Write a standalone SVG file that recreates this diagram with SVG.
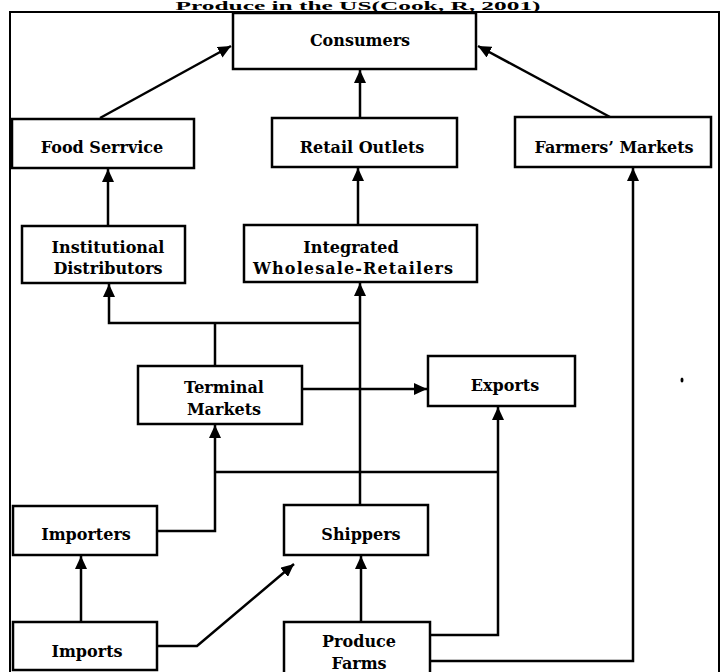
<svg xmlns="http://www.w3.org/2000/svg" width="725" height="672" viewBox="0 0 725 672">
<style>
.box{fill:#fff;stroke:#000;stroke-width:2.5}
.lbl{font-family:"DejaVu Serif","Liberation Serif",serif;font-weight:bold;font-size:16px;text-anchor:middle;fill:#000}
.c{fill:none;stroke:#000;stroke-width:2.5}
.a{marker-end:url(#ah)}
</style>
<defs>
<marker id="ah" markerUnits="userSpaceOnUse" markerWidth="14" markerHeight="12" refX="13" refY="6" orient="auto">
<path d="M0,0 L13,6 L0,12 z" fill="#000"/>
</marker>
</defs>
<rect width="725" height="672" fill="#fff"/>
<text x="358" y="9.5" font-family="Liberation Serif, serif" font-weight="bold" font-size="12" text-anchor="middle" textLength="365" lengthAdjust="spacingAndGlyphs">Produce in the US(Cook, R, 2001)</text>
<rect x="10" y="12" width="709" height="680" fill="none" stroke="#000" stroke-width="2"/>
<g id="connectors">
<path class="c a" d="M100,118 L231,46"/>
<path class="c a" d="M360,118 V70"/>
<path class="c a" d="M610,117 L478,46"/>
<path class="c a" d="M108,226 V169"/>
<path class="c a" d="M358,225 V168"/>
<path class="c" d="M215,366 V323"/>
<path class="c a" d="M360,323 H109 V284"/>
<path class="c a" d="M360,505 V283"/>
<path class="c a" d="M302,389 H427"/>
<path class="c a" d="M157,531 H215 V425"/>
<path class="c" d="M215,472 H498"/>
<path class="c a" d="M430,635 H498 V407"/>
<path class="c a" d="M81,622 V556"/>
<path class="c a" d="M157,646 H197 L294,564"/>
<path class="c a" d="M361,622 V556"/>
<path class="c a" d="M430,661 H633 V168"/>
</g>
<g id="consumers"><rect class="box" x="233" y="13" width="243" height="56"/><text class="lbl" x="360" y="46">Consumers</text></g>
<g id="food-service"><rect class="box" x="12" y="119" width="182" height="49"/><text class="lbl" x="102" y="153">Food Serrvice</text></g>
<g id="retail-outlets"><rect class="box" x="272" y="118" width="185" height="49"/><text class="lbl" x="362" y="153">Retail Outlets</text></g>
<g id="farmers-markets"><rect class="box" x="515" y="117" width="196" height="50"/><text class="lbl" x="614" y="153">Farmers’ Markets</text></g>
<g id="institutional-distributors"><rect class="box" x="22" y="226" width="163" height="57"/><text class="lbl" x="108" y="253">Institutional</text><text class="lbl" x="108" y="274">Distributors</text></g>
<g id="integrated-wholesale-retailers"><rect class="box" x="244" y="225" width="233" height="57"/><text class="lbl" x="351" y="253">Integrated</text><text class="lbl" x="353" y="274" textLength="200" lengthAdjust="spacing">Wholesale-Retailers</text></g>
<g id="terminal-markets"><rect class="box" x="138" y="366" width="164" height="58"/><text class="lbl" x="224" y="393">Terminal</text><text class="lbl" x="224" y="415">Markets</text></g>
<g id="exports"><rect class="box" x="428" y="356" width="147" height="50"/><text class="lbl" x="505" y="391">Exports</text></g>
<g id="importers"><rect class="box" x="13" y="506" width="144" height="49"/><text class="lbl" x="86" y="540">Importers</text></g>
<g id="shippers"><rect class="box" x="284" y="505" width="144" height="50"/><text class="lbl" x="361" y="540">Shippers</text></g>
<g id="imports"><rect class="box" x="13" y="622" width="144" height="48"/><text class="lbl" x="87" y="657">Imports</text></g>
<g id="produce-farms"><rect class="box" x="284" y="622" width="146" height="60"/><text class="lbl" x="359" y="647">Produce</text><text class="lbl" x="359" y="669">Farms</text></g>
<ellipse cx="682" cy="380" rx="1.5" ry="2.5" fill="#000"/>
</svg>
